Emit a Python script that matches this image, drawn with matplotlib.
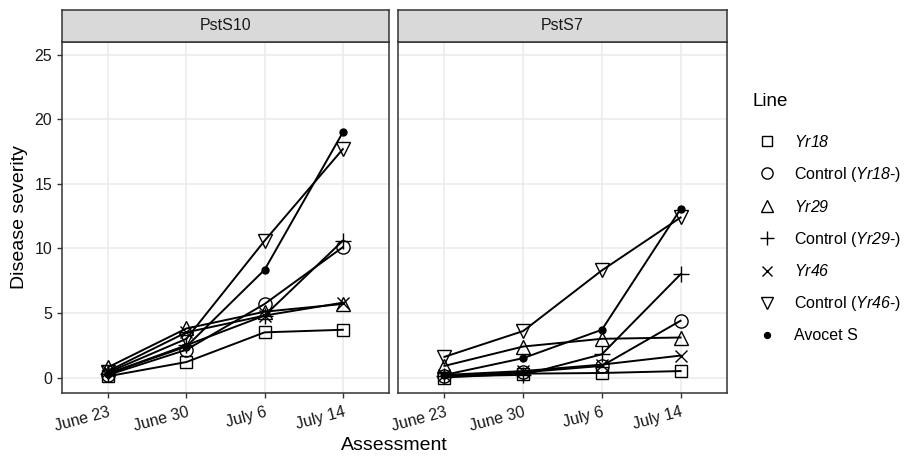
import matplotlib
matplotlib.use("Agg")
import matplotlib.pyplot as plt
from matplotlib.lines import Line2D

plt.rcParams['font.family'] = ['Liberation Sans', 'DejaVu Sans']
plt.rcParams['mathtext.fontset'] = 'custom'
plt.rcParams['mathtext.rm'] = 'Liberation Sans:italic'
plt.rcParams['mathtext.it'] = 'Liberation Sans:italic'

assessments = ["June 23", "June 30", "July 6", "July 14"]
panels = ["PstS10", "PstS7"]
lines = ["Yr18", "Control (Yr18-)", "Yr29", "Control (Yr29-)", "Yr46", "Control (Yr46-)", "Avocet S"]
legend_labels = [r"$\mathit{Yr18}$", r"Control ($\mathit{Yr18}$-)", r"$\mathit{Yr29}$",
                 r"Control ($\mathit{Yr29}$-)", r"$\mathit{Yr46}$", r"Control ($\mathit{Yr46}$-)", "Avocet S"]

pst10 = {
    "Yr18":            [0.1, 1.2, 3.5, 3.7],
    "Control (Yr18-)": [0.2, 2.15, 5.7, 10.1],
    "Yr29":            [0.8, 3.8, 5.1, 5.7],
    "Control (Yr29-)": [0.3, 2.5, 4.8, 10.6],
    "Yr46":            [0.5, 3.5, 4.8, 5.8],
    "Control (Yr46-)": [0.4, 3.0, 10.6, 17.7],
    "Avocet S":        [0.3, 2.4, 8.35, 19.0],
}
pst7 = {
    "Yr18":            [0.0, 0.3, 0.35, 0.5],
    "Control (Yr18-)": [0.1, 0.4, 0.9, 4.4],
    "Yr29":            [0.9, 2.4, 3.0, 3.1],
    "Control (Yr29-)": [0.1, 0.2, 1.8, 8.0],
    "Yr46":            [0.2, 0.5, 1.0, 1.7],
    "Control (Yr46-)": [1.6, 3.6, 8.3, 12.4],
    "Avocet S":        [0.2, 1.5, 3.7, 13.05],
}
data = [pst10, pst7]

markers = {"Yr18": ("s", 9, 'none'), "Control (Yr18-)": ("o", 9.5, 'none'),
           "Yr29": ("^", 10, 'none'), "Control (Yr29-)": ("+", 12, 'none'),
           "Yr46": ("x", 8.5, 'none'), "Control (Yr46-)": ("v", 10.5, 'none'),
           "Avocet S": ("o", 5, 'black')}

W, H = 913, 457
fig = plt.figure(figsize=(W / 100, H / 100), dpi=100)

axes_px = [(62, 389), (398, 727)]
top_px, bottom_px, strip_top = 42, 393, 10
border = '#333333'

for i, (x0, x1) in enumerate(axes_px):
    ax = fig.add_axes([x0 / W, (H - bottom_px) / H, (x1 - x0) / W, (bottom_px - top_px) / H])
    xs = list(range(1, len(assessments) + 1))
    for name in lines:
        m, ms, fc = markers[name]
        ax.plot(xs, data[i][name], color='black', lw=1.4, marker=m, markersize=ms,
                markerfacecolor=fc, markeredgecolor='black', markeredgewidth=1.0, zorder=3)
    ax.set_xlim(0.41, 4.59)
    ax.set_ylim(-1.2, 26)
    ax.set_xticks(xs)
    ax.set_xticklabels(assessments, rotation=15, ha='right', rotation_mode='anchor')
    ax.set_yticks([0, 5, 10, 15, 20, 25])
    ax.grid(True, color='#ebebeb', lw=1.1)
    ax.set_axisbelow(True)
    for s in ax.spines.values():
        s.set_color(border)
        s.set_linewidth(1.1)
    ax.tick_params(colors=border, labelcolor='#1a1a1a', labelsize=11.5, length=3.5, width=1)
    ax.tick_params(axis='x', pad=5)
    if i == 0:
        ax.set_ylabel("Disease severity", fontsize=14, labelpad=5)
    else:
        ax.set_yticklabels([])
        ax.tick_params(axis='y', length=0)
    # strip
    sax = fig.add_axes([x0 / W, (H - top_px) / H, (x1 - x0) / W, (top_px - strip_top) / H])
    sax.set_facecolor('#d9d9d9')
    sax.set_xticks([]); sax.set_yticks([])
    for s in sax.spines.values():
        s.set_color(border)
        s.set_linewidth(1.1)
    sax.text(0.5, 0.5, panels[i], ha='center', va='center', fontsize=11.5, color='#1a1a1a',
             transform=sax.transAxes)

fig.text((62 + 727) / 2 / W, 1 - 446 / H, "Assessment", ha='center', va='center', fontsize=14)

# legend
fig.text(752 / W, 1 - 102 / H, "Line", ha='left', va='center', fontsize=13.5)
handles = []
for name in lines:
    m, ms, fc = markers[name]
    handles.append(Line2D([], [], ls='none', marker=m, markersize=ms * 0.85, markerfacecolor=fc,
                          markeredgecolor='black', markeredgewidth=1.0))
leg = fig.legend(handles, legend_labels, loc='upper left', bbox_to_anchor=(756 / W, 1 - 134 / H),
                 frameon=False, fontsize=11.5, labelspacing=0.93, handlelength=1.4,
                 handletextpad=1.0, borderaxespad=0, borderpad=0)

fig.savefig("out.png", dpi=100)
